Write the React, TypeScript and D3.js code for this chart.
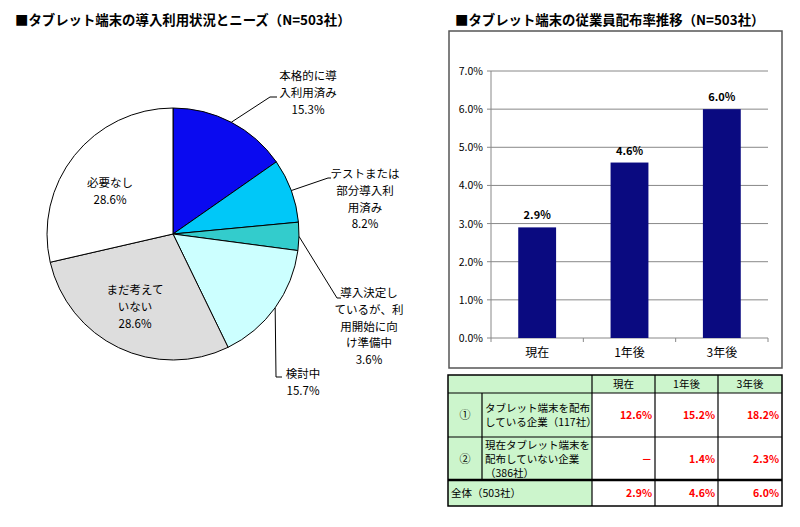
import React from "react";
import * as d3 from "d3";

// pie: tablet adoption status (N=503)
const pieLabels = [
  ["本格的に導", "入利用済み"],
  ["テストまたは", "部分導入利", "用済み"],
  ["導入決定し", "ているが、利", "用開始に向", "け準備中"],
  ["検討中"],
  ["まだ考えて", "いない"],
  ["必要なし"],
];
const pieValues = [15.3, 8.2, 3.6, 15.7, 28.6, 28.6];

// bars: distribution rate to employees
const barCategories = ["現在", "1年後", "3年後"];
const barValues = [2.9, 4.6, 6.0];
const yTicks = [0, 1, 2, 3, 4, 5, 6, 7];

// table
const tableHeader = ["現在", "1年後", "3年後"];
const rowMarks = ["①", "②"];
const rowLabels = [
  ["タブレット端末を配布", "している企業（117社）"],
  ["現在タブレット端末を", "配布していない企業", "（386社）"],
];
const rowValues = [
  ["12.6%", "15.2%", "18.2%"],
  ["－", "1.4%", "2.3%"],
];
const totalLabel = "全体（503社）";
const totalValues = ["2.9%", "4.6%", "6.0%"];

const pieColors = ["#0a0af0", "#00c8f8", "#33cccc", "#ccffff", "#dddddd", "#ffffff"];
const FONT = "'Noto Sans CJK JP', 'Noto Sans', sans-serif";

// where each pie label sits: text centre x, first line y, elbow of the leader (or null)
const labelLayout = [
  { x: 308, y: 80, elbow: [270, 97], end: [277, 97] },
  { x: 365, y: 178, elbow: [328, 178], end: [331, 178] },
  { x: 369, y: 297, elbow: [337, 298], end: [341, 298] },
  { x: 303, y: 378, elbow: [276, 377], end: [282, 377] },
  { x: 135, y: 294, elbow: null, end: null },
  { x: 110, y: 187, elbow: null, end: null },
];

const App = () => {
  const cx = 173;
  const cy = 234;
  const r = 126;

  const arcs = d3
    .pie<number>()
    .sort(null)
    .value((d) => d)(pieValues);
  const arcGen = d3.arc<d3.PieArcDatum<number>>().innerRadius(0).outerRadius(r);

  const x = d3
    .scaleBand<string>()
    .domain(barCategories)
    .range([491, 768])
    .paddingInner(0.59)
    .paddingOuter(0.295);
  const y = d3.scaleLinear().domain([0, 7]).range([338, 71]);
  const step = x.step();
  const boundaries = [0, 1, 2, 3].map((i) => 491 + i * step);

  // table grid
  const colX = [448, 482, 592, 655, 718, 782];
  const rowY = [375, 393, 437, 480, 506];
  const green = "#ccf5cc";

  return (
    <svg width={784} height={511} style={{ display: "block", fontFamily: FONT }}>
      <rect width={784} height={511} fill="#fff" />
      <text x={7} y={17} fontSize={13.4} fontWeight="bold" fill="#000">
        ■タブレット端末の導入利用状況とニーズ（N=503社）
      </text>

      <g transform={`translate(${cx - 8},${cy - 8})`}>
        {arcs.map((a, i) => (
          <path key={i} d={arcGen(a) || ""} fill={pieColors[i]} stroke="#000" strokeWidth={1} />
        ))}
      </g>

      {arcs.map((a, i) => {
        const L = labelLayout[i];
        const lines = [...pieLabels[i], `${pieValues[i].toFixed(1)}%`];
        const mid = (a.startAngle + a.endAngle) / 2;
        const sx = cx - 8 + r * Math.sin(mid);
        const sy = cy - 8 - r * Math.cos(mid);
        return (
          <g key={i}>
            {L.elbow && L.end && (
              <polyline
                points={`${sx},${sy} ${L.elbow[0] - 8},${L.elbow[1] - 8} ${L.end[0] - 8},${L.end[1] - 8}`}
                fill="none"
                stroke="#000"
                strokeWidth={1}
              />
            )}
            {lines.map((t, j) => (
              <text
                key={j}
                x={L.x - 8}
                y={L.y - 8 + j * 16.8}
                textAnchor="middle"
                fontSize={11.5}
                fill="#000"
              >
                {t}
              </text>
            ))}
          </g>
        );
      })}

      <text x={447} y={17} fontSize={13.4} fontWeight="bold" fill="#000">
        ■タブレット端末の従業員配布率推移（N=503社）
      </text>

      <g transform="translate(-8,-8)">
        <rect x={449} y={31} width={333} height={337} fill="#fff" stroke="#555" strokeWidth={1.5} />
        {yTicks.map((t) => (
          <g key={t}>
            {t > 0 && <line x1={491} x2={768} y1={y(t)} y2={y(t)} stroke="#888" strokeWidth={1} />}
            <line x1={487} x2={491} y1={y(t)} y2={y(t)} stroke="#888" />
            <text x={483} y={y(t) + 4} textAnchor="end" fontSize={10.5} fill="#000">
              {t.toFixed(1)}%
            </text>
          </g>
        ))}
        <line x1={491} x2={491} y1={y(7)} y2={y(0)} stroke="#888" />
        <line x1={491} x2={768} y1={y(0)} y2={y(0)} stroke="#888" />
        {boundaries.map((b, i) => (
          <line key={i} x1={b} x2={b} y1={y(0)} y2={y(0) + 4} stroke="#888" />
        ))}
        {barCategories.map((c, i) => (
          <g key={c}>
            <rect
              x={x(c)}
              y={y(barValues[i])}
              width={x.bandwidth()}
              height={y(0) - y(barValues[i])}
              fill="#0a0a80"
            />
            <text
              x={(x(c) || 0) + x.bandwidth() / 2}
              y={y(barValues[i]) - 8}
              textAnchor="middle"
              fontSize={11}
              fontWeight="bold"
              fill="#000"
            >
              {barValues[i].toFixed(1)}%
            </text>
            <text
              x={(x(c) || 0) + x.bandwidth() / 2}
              y={357}
              textAnchor="middle"
              fontSize={12}
              fill="#000"
            >
              {c}
            </text>
          </g>
        ))}

        {/* table */}
        <rect x={colX[0]} y={rowY[0]} width={colX[2] - colX[0]} height={rowY[1] - rowY[0]} fill={green} />
        {tableHeader.map((h, i) => (
          <g key={h}>
            <rect
              x={colX[i + 2]}
              y={rowY[0]}
              width={colX[i + 3] - colX[i + 2]}
              height={rowY[1] - rowY[0]}
              fill={green}
            />
            <text
              x={(colX[i + 2] + colX[i + 3]) / 2}
              y={rowY[0] + 13}
              textAnchor="middle"
              fontSize={10.5}
              fill="#000"
            >
              {h}
            </text>
          </g>
        ))}
        {rowMarks.map((m, ri) => {
          const top = rowY[ri + 1];
          const bot = rowY[ri + 2];
          const lines = rowLabels[ri];
          const firstY = (top + bot) / 2 - ((lines.length - 1) * 14) / 2 + 4;
          return (
            <g key={m}>
              <rect x={colX[0]} y={top} width={colX[2] - colX[0]} height={bot - top} fill={green} />
              <text x={(colX[0] + colX[1]) / 2} y={(top + bot) / 2 + 4} textAnchor="middle" fontSize={11} fill="#000">
                {m}
              </text>
              {lines.map((t, j) => (
                <text key={j} x={colX[1] + 3} y={firstY + j * 14} fontSize={10.5} fill="#000">
                  {t}
                </text>
              ))}
              {rowValues[ri].map((v, ci) => (
                <text
                  key={ci}
                  x={colX[ci + 3] - 3}
                  y={(top + bot) / 2 + 4}
                  textAnchor="end"
                  fontSize={10.5}
                  fontWeight="bold"
                  fill="#ff0000"
                >
                  {v}
                </text>
              ))}
            </g>
          );
        })}
        <rect x={colX[0]} y={rowY[3]} width={colX[2] - colX[0]} height={rowY[4] - rowY[3]} fill={green} />
        <text x={colX[0] + 3} y={(rowY[3] + rowY[4]) / 2 + 4} fontSize={10.5} fill="#000">
          {totalLabel}
        </text>
        {totalValues.map((v, ci) => (
          <text
            key={ci}
            x={colX[ci + 3] - 3}
            y={(rowY[3] + rowY[4]) / 2 + 4}
            textAnchor="end"
            fontSize={10.5}
            fontWeight="bold"
            fill="#ff0000"
          >
            {v}
          </text>
        ))}
        {/* grid lines */}
        <rect
          x={colX[0]}
          y={rowY[0]}
          width={colX[5] - colX[0]}
          height={rowY[4] - rowY[0]}
          fill="none"
          stroke="#000"
          strokeWidth={1.5}
        />
        {[1, 2].map((i) => (
          <line key={i} x1={colX[0]} x2={colX[5]} y1={rowY[i]} y2={rowY[i]} stroke="#000" strokeWidth={1.2} />
        ))}
        <line x1={colX[0]} x2={colX[5]} y1={rowY[3]} y2={rowY[3]} stroke="#000" strokeWidth={2.5} />
        <line x1={colX[1]} x2={colX[1]} y1={rowY[1]} y2={rowY[3]} stroke="#000" strokeWidth={1.2} />
        {[2, 3, 4].map((i) => (
          <line key={i} x1={colX[i]} x2={colX[i]} y1={rowY[0]} y2={rowY[4]} stroke="#000" strokeWidth={1.2} />
        ))}
      </g>
    </svg>
  );
};

export default App;
